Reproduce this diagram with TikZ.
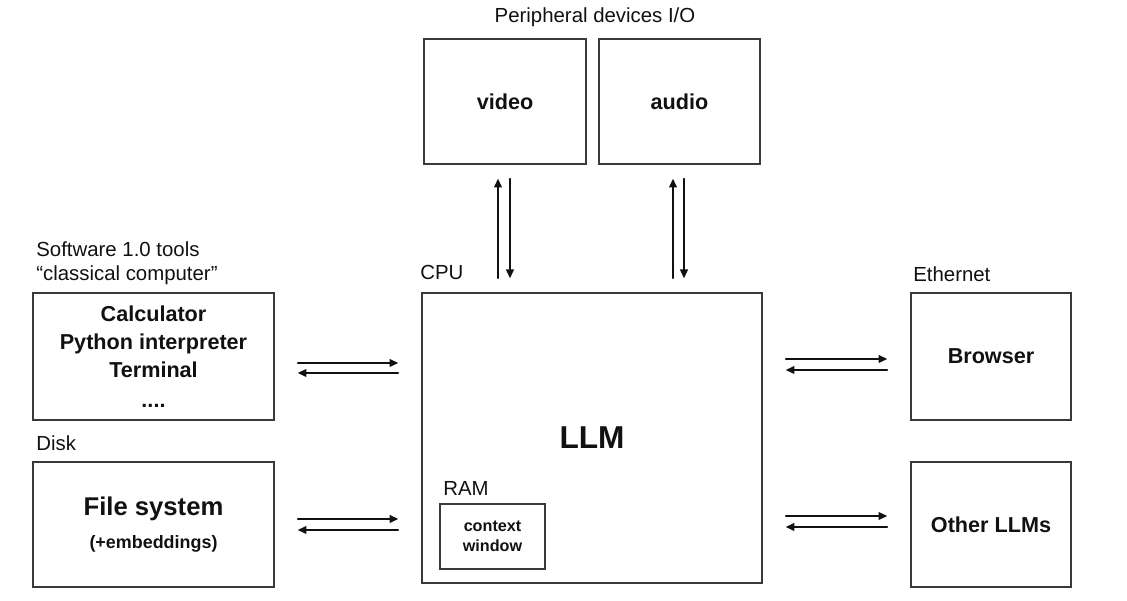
\documentclass[tikz,border=0pt]{standalone}
\usepackage{fontspec}
\setmainfont{Liberation Sans}
\usetikzlibrary{arrows.meta,positioning,calc}
\definecolor{ink}{HTML}{111111}
\definecolor{frame}{HTML}{3A3A3A}

\begin{document}
\begin{tikzpicture}[line cap=round,
    box/.style={draw=frame, line width=0.8pt, inner sep=0pt, align=center, text=ink,
      font=\fontsize{12.3}{15.9}\selectfont\bfseries},
    tag/.style={anchor=west, inner sep=0pt, text=ink, align=left,
      font=\fontsize{11.6}{13.6}\selectfont},
    flow/.style={ink, line width=0.9pt, -{Triangle[length=5pt,width=4.4pt]}}]
  \useasboundingbox (0,0) rectangle (22.54,12.02);
  % peripheral devices
  \node[tag, anchor=center] (periph) at (11.90,11.68) {Peripheral devices I/O};
  \node[box, minimum width=3.24cm, minimum height=2.50cm] (video) at (10.10,9.99) {video};
  \node[box, minimum width=3.22cm, minimum height=2.50cm] (audio) at (13.59,9.99) {audio};
  % CPU
  \node[tag] (cpu) at (8.40,6.58) {CPU};
  \node[box, minimum width=6.80cm, minimum height=5.80cm, font=\fontsize{18}{20}\selectfont\bfseries] (llm) at (11.84,3.26) {LLM};
  \node[tag] (ram) at (8.86,2.26) {RAM};
  \node[box, line width=1.1pt, minimum width=2.10cm, minimum height=1.30cm, font=\fontsize{9.2}{11.3}\selectfont\bfseries] (ctx) at (9.85,1.29) {context\\window};
  % classical tools and disk
  \node[tag] (swlabel) at (0.72,6.76) {Software 1.0 tools\\“classical computer”};
  \node[box, minimum width=4.82cm, minimum height=2.54cm] (tools) at (3.07,4.89) {Calculator\\Python interpreter\\Terminal\\[1pt]....};
  \node[tag] (disk) at (0.72,3.16) {Disk};
  \node[box, minimum width=4.82cm, minimum height=2.50cm] (files) at (3.07,1.53)
    {{\fontsize{14.6}{16}\selectfont File system}\\[2.5pt]{\fontsize{10.2}{12}\selectfont (+embeddings)}};
  % ethernet
  \node[tag] (eth) at (18.26,6.54) {Ethernet};
  \node[box, minimum width=3.20cm, minimum height=2.54cm] (browser) at (19.82,4.89) {Browser};
  \node[box, minimum width=3.20cm, minimum height=2.50cm] (others) at (19.82,1.53) {Other LLMs};
  % arrows
  \begin{scope}[shorten <=0.46cm, shorten >=0.46cm]
    \draw[flow] (tools.east |- 0,4.76) -- (llm.west |- 0,4.76);
    \draw[flow] (llm.west |- 0,4.56) -- (tools.east |- 0,4.56);
    \draw[flow] (files.east |- 0,1.64) -- (llm.west |- 0,1.64);
    \draw[flow] (llm.west |- 0,1.42) -- (files.east |- 0,1.42);
    \draw[flow] (llm.east |- 0,4.84) -- (browser.west |- 0,4.84);
    \draw[flow] (browser.west |- 0,4.62) -- (llm.east |- 0,4.62);
    \draw[flow] (llm.east |- 0,1.70) -- (others.west |- 0,1.70);
    \draw[flow] (others.west |- 0,1.48) -- (llm.east |- 0,1.48);
  \end{scope}
  \begin{scope}[shorten <=0.28cm, shorten >=0.28cm]
    \draw[flow] (llm.north -| 9.96,0) -- (video.south -| 9.96,0);
    \draw[flow] (video.south -| 10.20,0) -- (llm.north -| 10.20,0);
    \draw[flow] (llm.north -| 13.46,0) -- (audio.south -| 13.46,0);
    \draw[flow] (audio.south -| 13.68,0) -- (llm.north -| 13.68,0);
  \end{scope}
\end{tikzpicture}
\end{document}
